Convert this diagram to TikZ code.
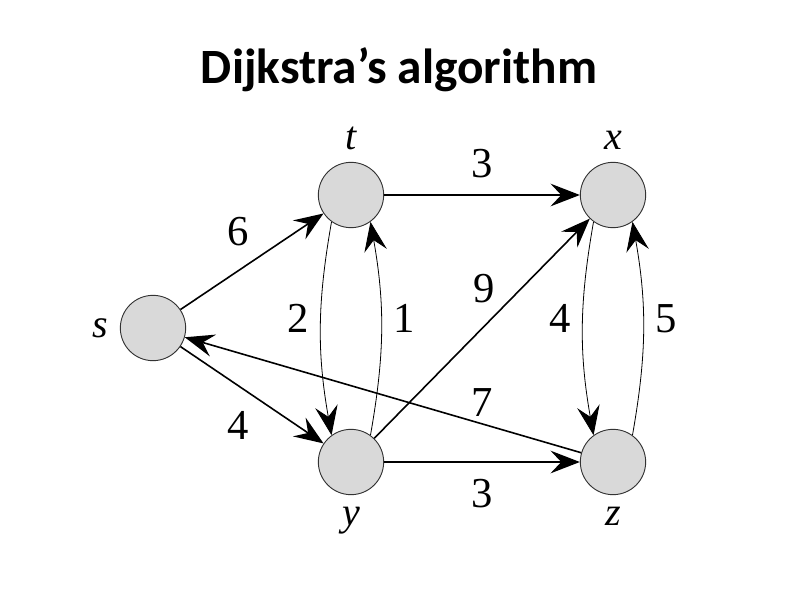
\documentclass[tikz,border=0pt]{standalone}
\usepackage{fontspec}
\setmainfont{Liberation Serif}
\newfontfamily\titlefont{Carlito}
\usetikzlibrary{arrows.meta}
\usetikzlibrary{positioning}

\begin{document}
\begin{tikzpicture}[x=0.75pt, y=-0.75pt, >={Stealth[length=22pt, width=17pt, inset=8pt]},
	vertex/.style={circle, draw=black!80, fill=black!15, line width=0.7pt, minimum size=49pt, inner sep=0pt},
	name lbl/.style={font=\fontsize{30}{34}\selectfont\itshape, inner sep=0pt},
	weight/.style={font=\fontsize{32}{36}\selectfont, inner sep=0pt},
	edge/.style={->, line width=1.2pt},
	arc/.style={->, line width=0.6pt},
]
\useasboundingbox (0,0) rectangle (800,600);
\node [font=\titlefont\bfseries\fontsize{37}{40}\selectfont] at (399,70) (title) {Dijkstra’s algorithm};
\node [vertex] at (153,328) (s) {};
\node [vertex] at (351,195) (t) {};
\node [vertex] at (613,195) (x) {};
\node [vertex] at (351,462) (y) {};
\node [vertex] at (613,462) (z) {};
\node [name lbl] (s_lbl) [left=9pt of s] {s};
\node [name lbl] (t_lbl) [above=9pt of t] {t};
\node [name lbl] (x_lbl) [above=9pt of x] {x};
\node [name lbl] (y_lbl) [below=9pt of y] {y};
\node [name lbl] (z_lbl) [below=9pt of z] {z};
%
\draw [edge] (s) -- node [weight, above left=11pt and 2pt] {6} (t);
\draw [edge] (s) -- node [weight, below left=12pt and 2pt] {4} (y);
\draw [edge] (t) -- node [weight, above=12pt] {3} (x);
\draw [edge] (y) -- node [weight, below=12pt] {3} (z);
\draw [edge] (y) -- node [weight, pos=0.54, above left=12pt and -4pt] {9} (x);
\draw [edge] (z) -- node [weight, pos=0.25, above=5pt] {7} (s);
\draw [arc] (t.234) to [out=-100, in=100] node [weight, pos=0.45, left=9pt] {2} (y.126);
\draw [arc] (y.54) to [out=80, in=-80] node [weight, pos=0.55, right=9pt] {1} (t.-54);
\draw [arc] (x.234) to [out=-100, in=100] node [weight, pos=0.45, left=9pt] {4} (z.126);
\draw [arc] (z.54) to [out=80, in=-80] node [weight, pos=0.55, right=9pt] {5} (x.-54);
\end{tikzpicture}
\end{document}
